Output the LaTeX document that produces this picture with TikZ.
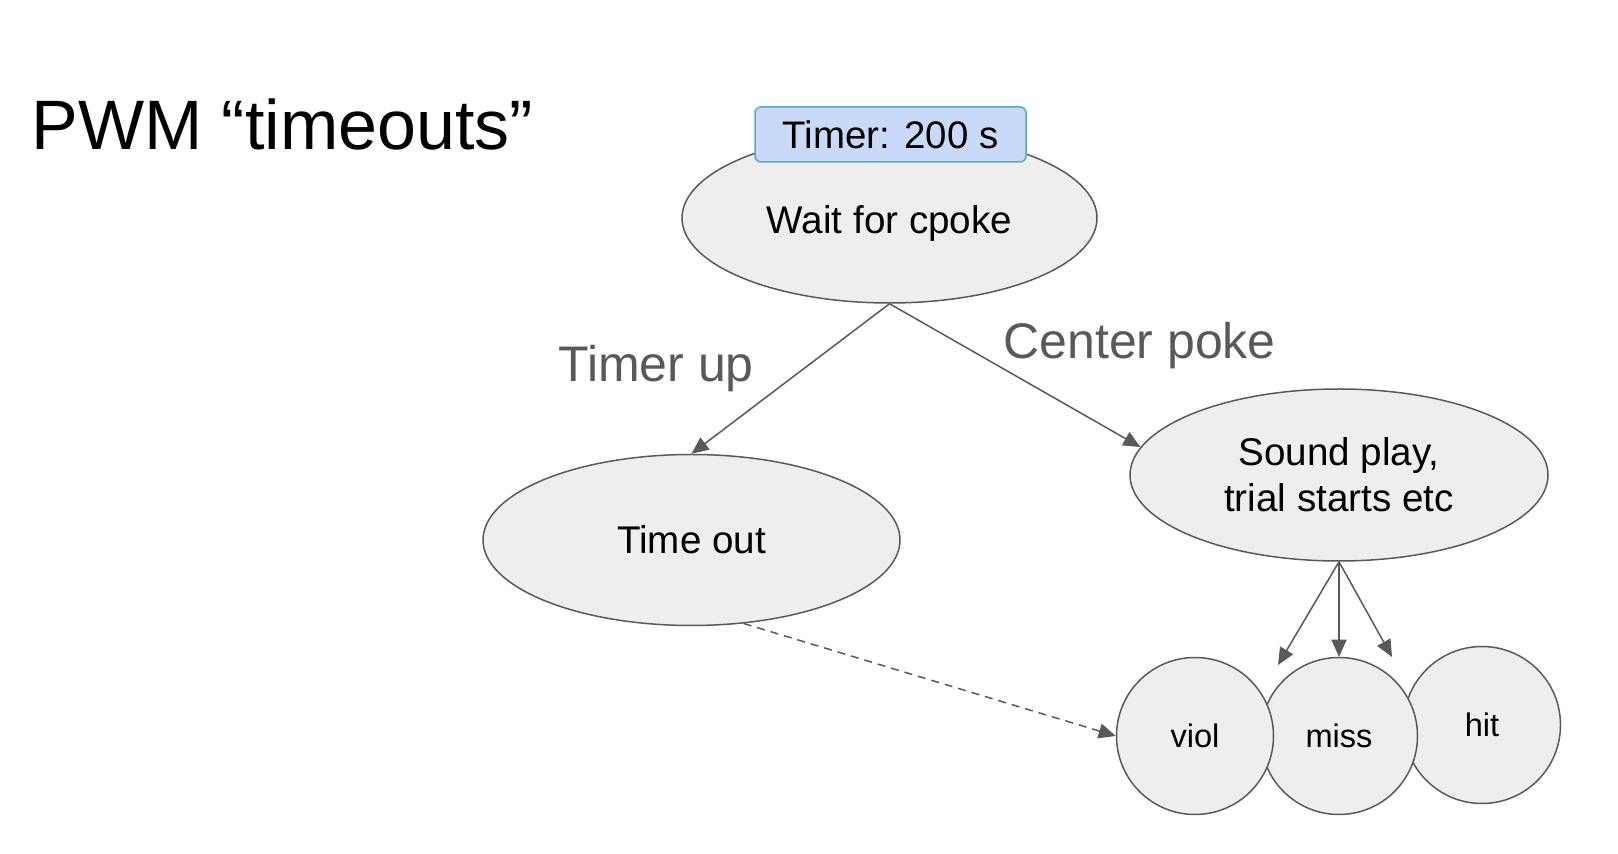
\documentclass[tikz,border=0pt]{standalone}
\usepackage{fontspec}
\setmainfont{Liberation Sans}
\usetikzlibrary{shapes.geometric,arrows.meta}
\definecolor{linegray}{HTML}{595959}
\definecolor{nodefill}{HTML}{EEEEEE}
\definecolor{timerfill}{HTML}{C9DAF8}
\definecolor{timerline}{HTML}{5BA8C0}
\begin{document}
\begin{tikzpicture}[x=0.5pt,y=-0.5pt,
  state/.style={ellipse, draw=linegray, fill=nodefill, line width=0.75pt, inner sep=0pt,
    font=\fontsize{19.3}{23}\selectfont, align=center},
  outcome/.style={circle, draw=linegray, fill=nodefill, line width=0.75pt, minimum size=78.5pt,
    inner sep=0pt, font=\fontsize{16.3}{19}\selectfont},
  conn/.style={draw=linegray, line width=0.75pt, -{Triangle[length=8.5pt,width=7.5pt]}},
  edgelabel/.style={text=linegray, inner sep=0pt, anchor=base west, font=\fontsize{25}{30}\selectfont},
  timerbox/.style={draw=timerline, fill=timerfill, line width=0.75pt, rounded corners=3pt,
    minimum width=135.5pt, minimum height=27.5pt, inner sep=0pt, font=\fontsize{19.2}{23}\selectfont}
]
\useasboundingbox (0,0) rectangle (1618,854);
\fill[white] (0,0) rectangle (1618,854);

\node[anchor=base west, inner sep=0pt, font=\fontsize{35}{42}\selectfont] (title) at (31,150) {PWM “timeouts”};

\node[outcome] (hit) at (1482,725) {hit};
\node[outcome] (miss) at (1339,736) {miss};
\node[outcome] (viol) at (1195,736) {viol};

\node[state, minimum width=207.5pt, minimum height=85pt, text depth=0pt] (wait) at (889.5,218) {\raisebox{-2pt}{Wait for cpoke}};
\node[timerbox] (timer) at (890.5,134.5) {Timer: 200 s};
\node[state, minimum width=208.5pt, minimum height=85.5pt] (timeout) at (691.5,540) {\raisebox{-1pt}{Time out}};
\node[state, minimum width=209pt, minimum height=86pt] (sound) at (1339,475) {Sound play,\\trial starts etc};

\node[edgelabel] (lblup) at (558,382) {Timer up};
\node[edgelabel] (lblpoke) at (1003,359) {Center poke};

\coordinate (toviol) at (1278,665);
\coordinate (tohit) at (1392,657);

\draw[conn] (wait.south) -- (timeout.north);
\draw[conn] (wait.south) -- (sound.172);
\draw[conn] (sound.south) -- (toviol);
\draw[conn] (sound.south) -- (miss.north);
\draw[conn] (sound.south) -- (tohit);
\draw[conn, dash pattern=on 4pt off 3pt] (timeout.-58) -- (viol.west);
\end{tikzpicture}
\end{document}
